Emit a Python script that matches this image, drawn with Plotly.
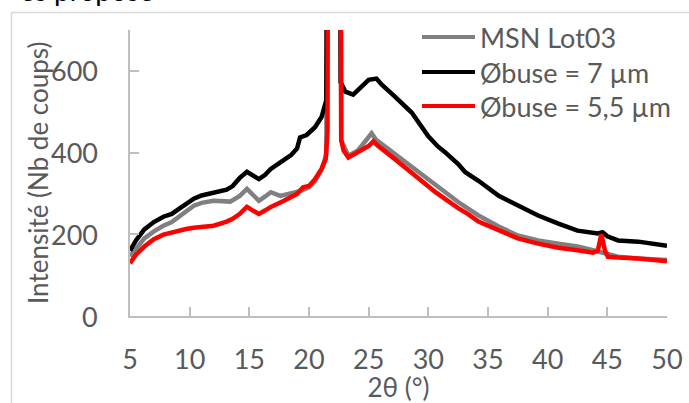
import plotly.graph_objects as go

# ---------------- data ----------------
series_names = ["MSN Lot03", "Øbuse = 7 µm", "Øbuse = 5,5 µm"]
series_colors = ["#808080", "#000000", "#ff0000"]

x_gray = [5.0, 5.5, 6.2, 7.0, 7.8, 8.5, 9.1, 9.7, 10.35, 11.0, 12.0, 13.4, 14.2, 14.8, 15.3,
          15.8, 16.3, 16.8, 17.6, 18.5, 19.3, 20.0, 20.5, 21.05, 21.45, 21.6, 22.1, 22.6, 22.7,
          23.3, 24.1, 24.8, 25.25, 25.6, 27.2, 28.9, 30.8, 32.5, 34.2, 35.9, 37.5, 39.2, 40.9,
          42.5, 43.8, 45.0, 45.9, 47.6, 50.0]
y_gray = [146, 165, 190, 207, 221, 230, 243, 258, 270, 277, 282, 280, 294, 311, 295,
          282, 292, 303, 294, 299, 306, 315, 330, 358, 395, 1500, 3000, 1500, 430,
          392, 405, 430, 447, 432, 396, 360, 316, 279, 246, 219, 197, 185, 177,
          170, 161, 152, 145, 141, 137]

x_black = [5.0, 5.5, 6.2, 7.0, 7.8, 8.5, 9.1, 9.7, 10.35, 11.0, 12.0, 13.1, 13.6, 14.2, 14.8,
           15.3, 15.8, 16.3, 16.8, 17.6, 18.5, 19.0, 19.25, 19.8, 20.5, 21.05, 21.45, 21.62,
           22.1, 22.58, 22.65, 23.05, 23.7, 24.3, 25.0, 25.65, 26.1, 27.2, 28.6, 30.0, 30.8,
           31.4, 32.5, 33.1, 34.2, 35.9, 37.5, 39.2, 40.9, 42.5, 44.2, 44.6, 45.0, 45.9, 47.6,
           50.0]
y_black = [160, 185, 212, 230, 243, 250, 262, 275, 287, 295, 303, 309, 318, 338, 353,
           345, 335, 345, 360, 376, 394, 410, 437, 443, 462, 487, 528, 1500,
           3000, 1500, 572, 549, 542, 559, 578, 581, 566, 537, 498, 440, 415,
           401, 372, 352, 331, 294, 270, 246, 226, 209, 202, 205, 195, 185, 182,
           172]

x_red = [5.0, 5.5, 6.2, 7.0, 7.8, 8.5, 9.1, 9.7, 10.35, 11.0, 12.0, 13.1, 13.6, 14.2, 14.8,
         15.3, 15.8, 16.3, 16.8, 17.9, 19.0, 19.5, 20.0, 20.5, 21.05, 21.4, 21.55, 21.62, 22.1,
         22.62, 22.7, 22.9, 23.3, 24.1, 25.0, 25.4, 25.8, 27.2, 28.9, 30.6, 32.5, 33.3, 34.2,
         35.9, 37.5, 39.2, 40.9, 42.5, 43.8, 44.2, 44.5, 44.8, 45.05, 45.9, 47.6, 50.0]
y_red = [129, 150, 170, 188, 199, 205, 209, 213, 216, 218, 221, 231, 238, 250, 267,
         258, 250, 258, 267, 282, 299, 315, 318, 335, 360, 384, 450, 1500, 3000,
         1500, 430, 405, 388, 400, 416, 428, 416, 384, 343, 303, 264, 250, 231,
         210, 190, 177, 167, 161, 155, 160, 200, 160, 145, 143, 141, 134]

x_ticks = [5, 10, 15, 20, 25, 30, 35, 40, 45, 50]
y_ticks = [0, 200, 400, 600]

x_title = "2θ (°)"
y_title = "Intensité (Nb de coups)"

# ---------------- figure ----------------
W, H = 689, 403
ML, MR, MT, MB = 130, 22, 30, 87
PW, PH = W - ML - MR, H - MT - MB

def px_x(p):
    return (p - ML) / PW

def px_y(p):
    return (H - MB - p) / PH

FONT = "Lato"
TXT = "#595959"
AX = "#bfbfbf"

fig = go.Figure()
for xs, ys, name, col in [(x_gray, y_gray, series_names[0], series_colors[0]),
                          (x_black, y_black, series_names[1], series_colors[1]),
                          (x_red, y_red, series_names[2], series_colors[2])]:
    fig.add_trace(go.Scatter(x=xs, y=ys, mode="lines", name=name,
                             line=dict(color=col, width=4.5), showlegend=False))

shapes = []
annotations = []
# chart-area frame (light gray, partly outside the screenshot)
shapes.append(dict(type="line", xref="paper", yref="paper",
                   x0=px_x(11.5), x1=px_x(700), y0=px_y(12.5), y1=px_y(12.5),
                   line=dict(color="#d9d9d9", width=1.5)))
shapes.append(dict(type="line", xref="paper", yref="paper",
                   x0=px_x(11.5), x1=px_x(11.5), y0=px_y(12.5), y1=px_y(420),
                   line=dict(color="#d9d9d9", width=1.5)))

# manual legend
leg_y = [37, 72, 106]
for name, col, yy in zip(series_names, series_colors, leg_y):
    shapes.append(dict(type="line", xref="paper", yref="paper",
                       x0=px_x(422), x1=px_x(475), y0=px_y(yy), y1=px_y(yy),
                       line=dict(color=col, width=4)))
    annotations.append(dict(xref="paper", yref="paper", x=px_x(478), y=px_y(yy),
                            xanchor="left", yanchor="middle", showarrow=False,
                            text=name, font=dict(family=FONT, size=27, color=TXT)))

# y tick labels (placed at the axis values, well away from the axis line)
for v in y_ticks:
    annotations.append(dict(xref="paper", yref="y", x=px_x(100), y=v,
                            xanchor="right", yanchor="middle", showarrow=False,
                            text=str(v), font=dict(family=FONT, size=27, color=TXT)))

# y axis title
annotations.append(dict(xref="paper", yref="paper", x=px_x(38), y=0.5,
                        xanchor="center", yanchor="middle", showarrow=False, textangle=-90,
                        text=y_title, font=dict(family=FONT, size=26, color=TXT)))

# cropped document text above the chart
annotations.append(dict(xref="paper", yref="paper", x=px_x(18), y=px_y(9),
                        xanchor="left", yanchor="bottom", showarrow=False,
                        text="es proposé", font=dict(family=FONT, size=28, color="#000000")))

fig.update_layout(
    width=W, height=H,
    margin=dict(l=ML, r=MR, t=MT, b=MB, autoexpand=False),
    paper_bgcolor="white", plot_bgcolor="white",
    shapes=shapes, annotations=annotations,
    font=dict(family=FONT, color=TXT),
)
fig.update_xaxes(range=[5, 50], tickvals=x_ticks, ticks="inside", ticklen=9,
                 tickcolor=AX, tickwidth=1.5, showline=True, linecolor=AX, linewidth=2,
                 showgrid=False, zeroline=False, ticklabelstandoff=19,
                 tickfont=dict(family=FONT, size=27, color=TXT),
                 title=dict(text=x_title, standoff=11, font=dict(family=FONT, size=26, color=TXT)))
fig.update_yaxes(range=[0, 700], tickvals=y_ticks, ticks="inside", ticklen=9,
                 tickcolor=AX, tickwidth=1.5, showline=True, linecolor=AX, linewidth=2,
                 showgrid=False, zeroline=False, showticklabels=False)

fig.write_html("out.html", config={"displayModeBar": False},
               post_script="document.body.style.margin='0';")
